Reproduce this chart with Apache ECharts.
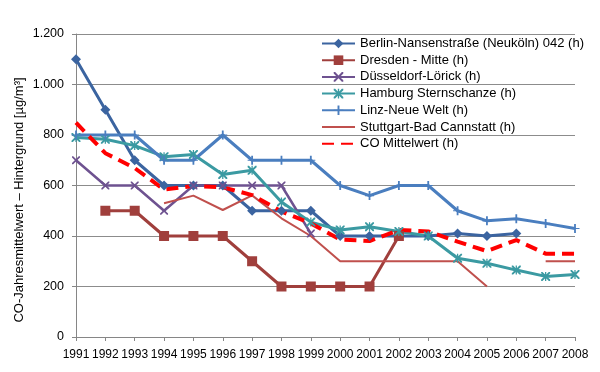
<!DOCTYPE html>
<html>
<head>
<meta charset="utf-8">
<script src="https://cdn.jsdelivr.net/npm/echarts@6/dist/echarts.min.js"></script>
<style>html,body{margin:0;padding:0;background:#fff;}#c{width:600px;height:372px;}</style>
</head>
<body>
<div id="c"></div>
<script>
var years = ['1991','1992','1993','1994','1995','1996','1997','1998','1999','2000','2001','2002','2003','2004','2005','2006','2007','2008'];
var berlin     = [1100, 900, 700, 600, 600, 600, 500, 500, 500, 400, 400, 400, 400, 410, 400, 410, null, null];
var dresden    = [null, 500, 500, 400, 400, 400, 300, 200, 200, 200, 200, 400, null, null, null, null, null, null];
var duesseldorf= [700, 600, 600, 500, 600, 600, 600, 600, 410, null, null, null, null, null, null, null, null, null];
var hamburg    = [790, 783, 758, 714, 723, 644, 660, 535, 455, 424, 437, 418, 400, 312, 292, 265, 240, 248];
var linz       = [800, 800, 800, 700, 700, 800, 700, 700, 700, 600, 560, 600, 600, 500, 460, 468, 450, 430];
var stuttgart  = [null, null, null, 530, 560, 503, 561, 470, 400, 300, 300, 300, 300, 300, 200, null, 300, 300];
var mittel     = [849, 728, 669, 584, 598, 593, 562, 497, 450, 386, 380, 424, 418, 378, 340, 384, 330, 330];
var names = ['Berlin-Nansenstraße (Neuköln) 042 (h)','Dresden - Mitte (h)','Düsseldorf-Lörick (h)','Hamburg Sternschanze (h)','Linz-Neue Welt (h)','Stuttgart-Bad Cannstatt (h)','CO Mittelwert (h)'];
var yTitle = 'CO-Jahresmittelwert – Hintergrund [µg/m³]';

var xPath = 'path://M0,0 L1.5,0 L5,3.5 L8.5,0 L10,0 L10,1.5 L6.5,5 L10,8.5 L10,10 L8.5,10 L5,6.5 L1.5,10 L0,10 L0,8.5 L3.5,5 L0,1.5 Z';
var starPath = 'path://M0,0 L1.5,0 L5,3.5 L8.5,0 L10,0 L10,1.5 L6.5,5 L10,8.5 L10,10 L8.5,10 L5,6.5 L1.5,10 L0,10 L0,8.5 L3.5,5 L0,1.5 Z M4.3,0 L5.7,0 L5.7,10 L4.3,10 Z';
var plusPath = 'path://M0,4.4 L10,4.4 L10,5.6 L0,5.6 Z M4,0 L6,0 L6,10 L4,10 Z';

function ser(name, data, color, width, symbol, size, markColor) {
  return {
    name: name, type: 'line', data: data,
    symbol: symbol, symbolSize: size, symbolKeepAspect: false,
    lineStyle: {color: color, width: width},
    itemStyle: {color: markColor || color},
    emphasis: {disabled: true},
    connectNulls: false
  };
}

var font = '"Liberation Sans", Arial, sans-serif';
var chart = echarts.init(document.getElementById('c'), null, {renderer: 'canvas'});
chart.setOption({
  animation: false,
  backgroundColor: '#ffffff',
  grid: {left: 76, right: 25, top: 34, bottom: 35, containLabel: false},
  graphic: [{
    type: 'text', x: 19, y: 200, rotation: Math.PI / 2,
    style: {text: yTitle, fill: '#000', font: '13px ' + font, align: 'center', verticalAlign: 'middle'}
  }],
  legend: {
    orient: 'vertical', left: 321, top: 37, padding: 0,
    itemWidth: 33, itemHeight: 12, itemGap: 3.7,
    textStyle: {fontFamily: font, fontSize: 13, color: '#000'},
    data: names
  },
  xAxis: {
    type: 'category', data: years, boundaryGap: false,
    axisLine: {lineStyle: {color: '#868686', width: 1}},
    axisTick: {show: true, alignWithLabel: true, length: 4, lineStyle: {color: '#868686'}},
    axisLabel: {interval: 0, hideOverlap: false, margin: 12, color: '#000', fontSize: 12, fontFamily: font},
    splitLine: {show: false}
  },
  yAxis: {
    type: 'value', min: 0, max: 1200, interval: 200,
    axisLine: {show: true, lineStyle: {color: '#868686', width: 1}},
    axisTick: {show: true, length: 4, lineStyle: {color: '#868686'}},
    axisLabel: {margin: 12, color: '#000', fontSize: 12.5, fontFamily: font,
      formatter: function (v) { return v >= 1000 ? Math.floor(v / 1000) + '.' + String(v % 1000).padStart(3, '0') : String(v); }},
    splitLine: {show: true, lineStyle: {color: '#8c8c8c', width: 1}}
  },
  series: [
    ser(names[0], berlin, '#3b64a0', 3, 'diamond', 10),
    ser(names[1], dresden, '#a03f3c', 3, 'rect', 10),
    ser(names[2], duesseldorf, '#6e5290', 2.5, xPath, 8),
    ser(names[3], hamburg, '#3b9aa2', 3, starPath, 9),
    ser(names[4], linz, '#4a7ebf', 3, plusPath, 9),
    ser(names[5], stuttgart, '#c0504d', 2, 'none', 0, 'rgba(0,0,0,0)'),
    {
      name: names[6], type: 'line', data: mittel, symbol: 'none',
      lineStyle: {color: '#ff0000', width: 4, type: [12, 7]},
      itemStyle: {color: 'rgba(0,0,0,0)'}, emphasis: {disabled: true}
    }
  ]
});
</script>
</body>
</html>
